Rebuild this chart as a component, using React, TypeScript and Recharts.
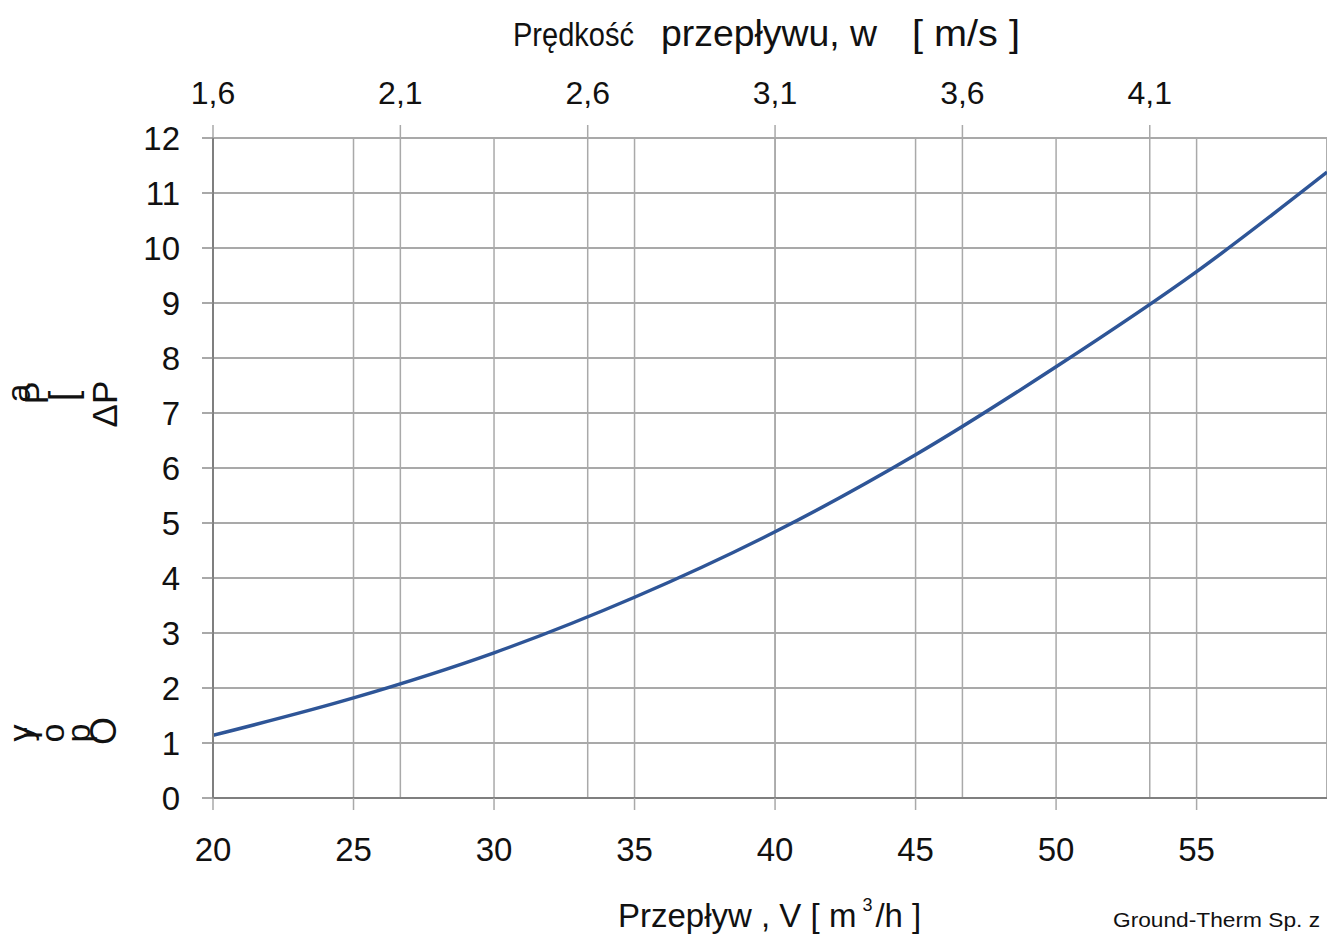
import { CartesianGrid, Line, LineChart, XAxis, YAxis } from "recharts"

// ── Data ────────────────────────────────────────────────────────────
const flow = [20, 25, 30, 35, 40, 45, 50, 55, 59.64]
const pressureDrop = [1.14, 1.82, 2.64, 3.65, 4.84, 6.24, 7.84, 9.57, 11.38]

const flowTicks = [20, 25, 30, 35, 40, 45, 50, 55]
const speedTicks = [1.6, 2.1, 2.6, 3.1, 3.6, 4.1]
const dpTicks = [0, 1, 2, 3, 4, 5, 6, 7, 8, 9, 10, 11, 12]

// top axis: flow speed follows the flow rate, 1.6 m/s at 20 m3/h, +0.5 m/s per 6.67 m3/h
const speedAt20 = 1.6
const speedPerFlow = 0.075

const flowDomain: [number, number] = [20, 59.64]
const speedDomain: [number, number] = [speedAt20, speedAt20 + speedPerFlow * (59.64 - 20)]

const data = flow.map((v, i) => ({
    v,
    w: speedAt20 + speedPerFlow * (v - 20),
    dp: pressureDrop[i],
}))

const FONT = "'Liberation Sans Narrow', 'Liberation Sans', Arial, sans-serif"
const LINE_BLUE = "#2E5597"
const AXIS_GRAY = "#7f7f7f"
const GRID_H = "#8c8c8c"
const GRID_V = "#a9a9a9"

const LeftTick = (props: any) => {
    const { x, y, payload } = props
    return (
        <text x={x} y={y} textAnchor="end" dominantBaseline="central"
            fontFamily={FONT} fontSize={33} fill="#111">
            {payload.value}
        </text>
    )
}

const BottomTick = (props: any) => {
    const { x, y, payload } = props
    return (
        <text x={x} y={y} dy="0.72em" textAnchor="middle"
            fontFamily={FONT} fontSize={33} fill="#111">
            {payload.value}
        </text>
    )
}

const TopTick = (props: any) => {
    const { x, y, payload } = props
    return (
        <text x={x} y={y} textAnchor="middle"
            fontFamily={FONT} fontSize={32} fill="#111">
            {Number(payload.value).toFixed(1).replace(".", ",")}
        </text>
    )
}

// single rotated glyph of the (oddly rendered) y-axis title
const RotChar = ({ x, y, ch, size = 34 }: { x: number; y: number; ch: string; size?: number }) => (
    <text x={x} y={y} transform={`rotate(-90 ${x} ${y})`} textAnchor="middle"
        dominantBaseline="central" fontFamily={FONT} fontSize={size} fill="#111">
        {ch}
    </text>
)

export default function App() {
    return (
        <div style={{ position: "absolute", left: 0, top: 0, width: 1327, height: 937, overflow: "hidden", background: "#fff" }}>
            <LineChart width={1327} height={937} data={data}
                margin={{ top: 78, right: 0, bottom: 79, left: 153 }}>
                <CartesianGrid xAxisId="bottom" vertical={false} stroke={GRID_H} strokeWidth={1.5} />
                <CartesianGrid xAxisId="bottom" horizontal={false} stroke={GRID_V} strokeWidth={1.5} />
                <CartesianGrid xAxisId="top" horizontal={false} stroke={GRID_V} strokeWidth={1.5} />
                <XAxis xAxisId="bottom" orientation="bottom" dataKey="v" type="number"
                    domain={flowDomain} ticks={flowTicks} allowDataOverflow height={60}
                    tickSize={12} tickMargin={27} tick={BottomTick}
                    axisLine={{ stroke: AXIS_GRAY, strokeWidth: 2 }}
                    tickLine={{ stroke: GRID_V, strokeWidth: 1.5 }} />
                <XAxis xAxisId="top" orientation="top" dataKey="w" type="number"
                    domain={speedDomain} ticks={speedTicks} allowDataOverflow height={60}
                    tickSize={13} tickMargin={21} tick={TopTick}
                    axisLine={false} tickLine={{ stroke: GRID_V, strokeWidth: 1.5 }} />
                <YAxis domain={[0, 12]} ticks={dpTicks} width={60}
                    tickSize={11} tickMargin={22} tick={LeftTick}
                    axisLine={{ stroke: AXIS_GRAY, strokeWidth: 2 }}
                    tickLine={{ stroke: GRID_H, strokeWidth: 1.5 }} />
                <Line xAxisId="bottom" dataKey="dp" type="monotone" stroke={LINE_BLUE}
                    strokeWidth={3.5} dot={false} isAnimationActive={false} />
            </LineChart>

            <svg width={1327} height={937} style={{ position: "absolute", left: 0, top: 0, pointerEvents: "none" }}>
                {/* top axis title */}
                <text x={513} y={46} fontFamily={FONT} fontSize={34} fill="#111" textLength={121} lengthAdjust="spacingAndGlyphs">Prędkość</text>
                <text x={661} y={46} fontFamily={FONT} fontSize={36} fill="#111" textLength={216} lengthAdjust="spacingAndGlyphs">przepływu, w</text>
                <text x={912} y={46} fontFamily={FONT} fontSize={36} fill="#111" textLength={108} lengthAdjust="spacingAndGlyphs">[ m/s ]</text>

                {/* bottom axis title */}
                <text x={618} y={927} fontFamily={FONT} fontSize={33} fill="#111">
                    Przepływ , V [ m<tspan dx={6} dy={-16} fontSize={18}>3</tspan><tspan dx={3} dy={16}>/h ]</tspan>
                </text>

                {/* footer */}
                <text x={1113} y={927} fontFamily="'Liberation Sans', Arial, sans-serif" fontSize={20} fill="#111" textLength={207} lengthAdjust="spacingAndGlyphs">Ground-Therm Sp. z</text>

                {/* y-axis title, glyphs rotated one by one as in the original */}
                <RotChar x={104} y={404} ch="ΔP" size={35} />
                <RotChar x={63} y={396} ch="[" size={38} />
                <RotChar x={36} y={393} ch="P" />
                <RotChar x={18} y={393} ch="a" />
                <RotChar x={103} y={731} ch="O" size={36} />
                <RotChar x={78} y={733} ch="p" />
                <RotChar x={52} y={733} ch="o" />
                <RotChar x={30} y={733} ch="r" />
                <RotChar x={20} y={733} ch="y" />
            </svg>
        </div>
    )
}
